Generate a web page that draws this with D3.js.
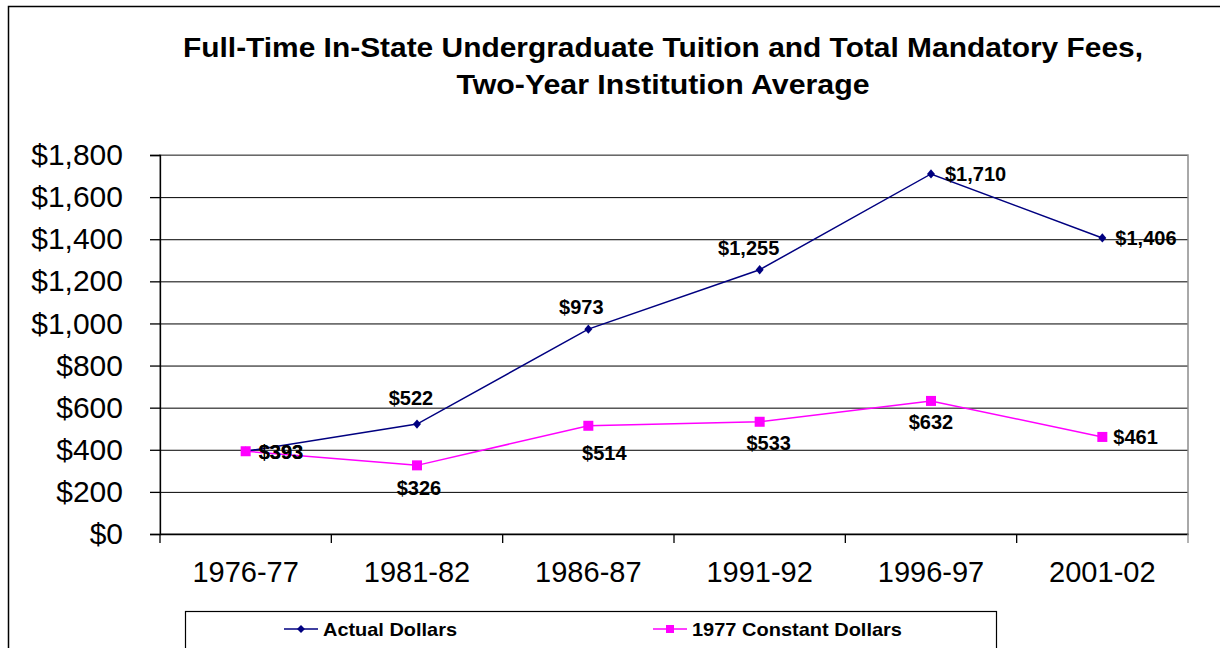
<!DOCTYPE html>
<html>
<head>
<meta charset="utf-8">
<script src="https://cdn.jsdelivr.net/npm/d3@7"></script>
<style>
  body { margin: 0; background: #fff; }
  svg { font-family: "Liberation Sans", Arial, sans-serif; }
</style>
</head>
<body>
<div id="chart"></div>
<script>
// Chart data
const years = ["1976-77", "1981-82", "1986-87", "1991-92", "1996-97", "2001-02"];
const actualDollars = [393, 522, 973, 1255, 1710, 1406];
const constantDollars = [393, 326, 514, 533, 632, 461];
const yTicks = [0, 200, 400, 600, 800, 1000, 1200, 1400, 1600, 1800];
const seriesNames = ["Actual Dollars", "1977 Constant Dollars"];

// data label placement (they were hand-placed in the original)
const actualLabelPos = ["right", "above", "above", "above", "right", "right"];
const actualLabelDx = [13, -6, -7, -11, 14, 13];
const actualLabelDy = [8, -19, -15, -15, 7, 7];
const constantLabelPos = ["right", "below", "below", "below", "below", "right"];
const constantLabelDx = [13, 2, 16, 9, 0, 11];
const constantLabelDy = [8, 30, 34, 28, 28, 7];

const width = 1220, height = 648;
const margin = { left: 160, right: 32, top: 155, bottom: 114 };
const plotW = width - margin.left - margin.right;
const plotH = height - margin.top - margin.bottom;

const svg = d3.select("#chart").append("svg")
    .attr("width", width)
    .attr("height", height);

// outer chart border
svg.append("rect")
    .attr("x", 8.5).attr("y", 6.5)
    .attr("width", 1240).attr("height", 680)
    .attr("fill", "none").attr("stroke", "#000").attr("stroke-width", 1.5);

// title (original text is a bit wide, so stretch to its width)
const title = svg.append("text")
    .attr("text-anchor", "middle")
    .attr("font-weight", "bold")
    .attr("font-size", 27);
title.append("tspan").attr("x", 663).attr("y", 57)
    .attr("textLength", 960).attr("lengthAdjust", "spacingAndGlyphs")
    .text("Full-Time In-State Undergraduate Tuition and Total Mandatory Fees,");
title.append("tspan").attr("x", 663).attr("y", 94)
    .attr("textLength", 413).attr("lengthAdjust", "spacingAndGlyphs")
    .text("Two-Year Institution Average");

const g = svg.append("g").attr("transform", `translate(${margin.left},${margin.top})`);

// scales
const x = d3.scaleBand().domain(years).range([0, plotW]).padding(0);
const y = d3.scaleLinear().domain([0, 1800]).range([plotH, 0]);
const cx = d => x(d) + x.bandwidth() / 2;

// gridlines
g.append("g")
    .call(d3.axisLeft(y).tickValues(yTicks).tickSize(-plotW).tickFormat(""))
    .call(a => a.select(".domain").remove())
    .call(a => a.selectAll("line").attr("stroke", "#000").attr("stroke-width", 1));

// plot border (grey)
g.append("rect")
    .attr("x", 0).attr("y", 0).attr("width", plotW).attr("height", plotH)
    .attr("fill", "none").attr("stroke", "#8c8c8c").attr("stroke-width", 1.5);

// y axis
g.append("g")
    .call(d3.axisLeft(y).tickValues(yTicks).tickSize(10).tickPadding(27)
        .tickFormat(d => "$" + d3.format(",")(d)))
    .call(a => a.selectAll("text").attr("font-size", 30).attr("fill", "#000")
        .attr("font-family", "Liberation Sans, Arial, sans-serif"))
    .call(a => a.selectAll("line, .domain").attr("stroke", "#000").attr("stroke-width", 1.3));

// x axis: labels at band centers, ticks at band edges
g.append("g")
    .attr("transform", `translate(0,${plotH})`)
    .call(d3.axisBottom(x).tickSize(0).tickPadding(27))
    .call(a => a.select(".domain").attr("stroke", "#000").attr("stroke-width", 1.3))
    .call(a => a.selectAll("text").attr("font-size", 29).attr("fill", "#000")
        .attr("font-family", "Liberation Sans, Arial, sans-serif"));

const edges = years.map(d => x(d)).concat([plotW]);
g.append("g").selectAll("line")
    .data(edges)
    .enter().append("line")
    .attr("x1", d => d).attr("x2", d => d)
    .attr("y1", plotH).attr("y2", plotH + 9)
    .attr("stroke", (d, i) => i === edges.length - 1 ? "#8c8c8c" : "#000")
    .attr("stroke-width", 1.3);

const line = d3.line().x((d, i) => cx(years[i])).y(d => y(d));

// constant dollars series
g.append("path")
    .datum(constantDollars)
    .attr("d", line)
    .attr("fill", "none").attr("stroke", "#ff00ff").attr("stroke-width", 1.5);

// actual dollars series
g.append("path")
    .datum(actualDollars)
    .attr("d", line)
    .attr("fill", "none").attr("stroke", "#000080").attr("stroke-width", 1.5);

const diamond = d3.symbol().type(d3.symbolDiamond2).size(50);

g.selectAll(".pt-actual")
    .data(actualDollars)
    .enter().append("path")
    .attr("class", "pt-actual")
    .attr("d", diamond)
    .attr("transform", (d, i) => `translate(${cx(years[i])},${y(d)}) scale(0.9,1.05)`)
    .attr("fill", "#000080");

g.selectAll(".pt-const")
    .data(constantDollars)
    .enter().append("rect")
    .attr("class", "pt-const")
    .attr("x", (d, i) => cx(years[i]) - 5)
    .attr("y", d => y(d) - 5)
    .attr("width", 10).attr("height", 10)
    .attr("fill", "#ff00ff");

// data labels
function addLabels(values, positions, dxs, dys, cls) {
    g.selectAll("." + cls)
        .data(values)
        .enter().append("text")
        .attr("class", cls)
        .attr("font-size", 20)
        .attr("font-weight", "bold")
        .attr("fill", "#000")
        .attr("text-anchor", (d, i) => positions[i] === "right" ? "start" : "middle")
        .attr("x", (d, i) => cx(years[i]) + dxs[i])
        .attr("y", (d, i) => y(d) + dys[i])
        .text(d => "$" + d3.format(",")(d));
}
addLabels(actualDollars, actualLabelPos, actualLabelDx, actualLabelDy, "lbl-actual");
addLabels(constantDollars, constantLabelPos, constantLabelDx, constantLabelDy, "lbl-const");

// legend
const legend = svg.append("g");
legend.append("rect")
    .attr("x", 185.5).attr("y", 611.5)
    .attr("width", 811).attr("height", 60)
    .attr("fill", "#fff").attr("stroke", "#000").attr("stroke-width", 1.2);

const legendItems = [
    { name: seriesNames[0], color: "#000080", x: 284, marker: "diamond", len: 134 },
    { name: seriesNames[1], color: "#ff00ff", x: 653, marker: "square", len: 210 }
];
const ly = 629;
legendItems.forEach(it => {
    legend.append("line")
        .attr("x1", it.x).attr("x2", it.x + 34)
        .attr("y1", ly).attr("y2", ly)
        .attr("stroke", it.color).attr("stroke-width", 1.5);
    if (it.marker === "diamond") {
        legend.append("path")
            .attr("d", d3.symbol().type(d3.symbolDiamond2).size(40))
            .attr("transform", `translate(${it.x + 17},${ly})`)
            .attr("fill", it.color);
    } else {
        legend.append("rect")
            .attr("x", it.x + 13).attr("y", ly - 4)
            .attr("width", 8).attr("height", 8)
            .attr("fill", it.color);
    }
    legend.append("text")
        .attr("x", it.x + 39).attr("y", ly + 7)
        .attr("font-size", 19).attr("font-weight", "bold")
        .attr("textLength", it.len).attr("lengthAdjust", "spacingAndGlyphs")
        .text(it.name);
});
</script>
</body>
</html>
